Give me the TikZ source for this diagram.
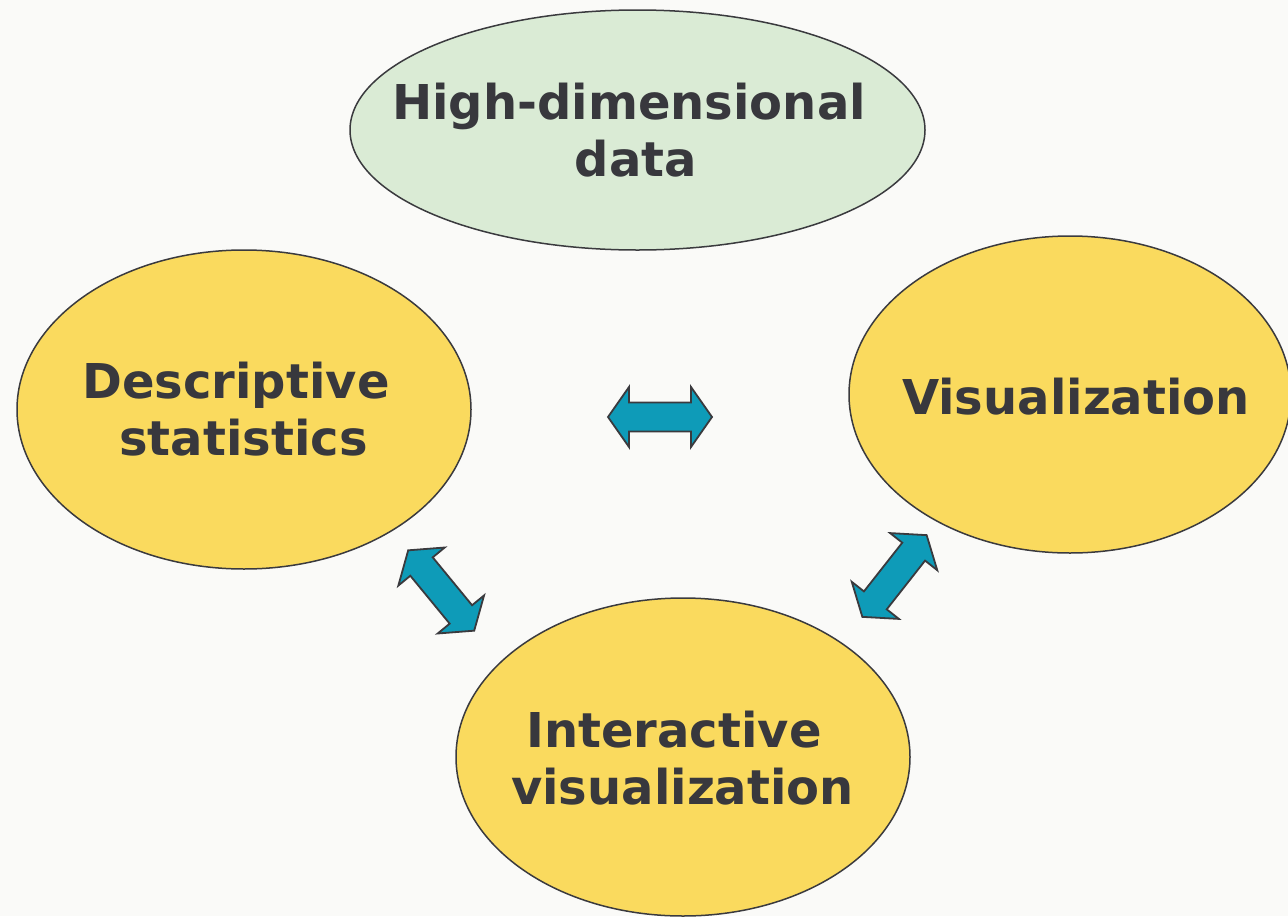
\documentclass[tikz,border=0pt]{standalone}
\usepackage{fontspec}
\setmainfont{DejaVu Sans}
\usetikzlibrary{shapes.geometric}
\definecolor{bg}{HTML}{FAFAF8}
\definecolor{greenfill}{HTML}{DAEBD5}
\definecolor{yellowfill}{HTML}{FADA5E}
\definecolor{arrowteal}{HTML}{0E9BB8}
\definecolor{edgecol}{HTML}{3A3A3E}
\definecolor{ink}{HTML}{38383D}
\newcommand{\dblarrow}[3]{\draw[blockarrow, shift={(#1,#2)}, rotate=#3]
  (-52,0) -- (-31,-30) -- (-31,-14.5) -- (31,-14.5) -- (31,-30) -- (52,0)
  -- (31,30) -- (31,14.5) -- (-31,14.5) -- (-31,30) -- cycle;}
\begin{document}
\begin{tikzpicture}[x=1pt,y=-1pt,
  bubble/.style={ellipse, draw=edgecol, line width=1.5pt, inner sep=0pt},
  lbl/.style={font=\fontsize{48}{57}\selectfont\bfseries, text=ink, inner sep=0pt, anchor=base},
  blockarrow/.style={fill=arrowteal, draw=edgecol, line width=1.8pt, line join=miter}]
\fill[bg] (0,0) rectangle (1288,916);
\useasboundingbox (0,0) rectangle (1288,916);
\clip (0,0) rectangle (1288,916);
\node[bubble, fill=greenfill, minimum width=575pt, minimum height=240pt] (hd) at (637.5,130) {};
\node[bubble, fill=yellowfill, minimum width=454pt, minimum height=319pt] (ds) at (244,409.5) {};
\node[bubble, fill=yellowfill, minimum width=442pt, minimum height=317pt] (vis) at (1070,394.5) {};
\node[bubble, fill=yellowfill, minimum width=454pt, minimum height=318pt] (iv) at (683,757) {};
\node[lbl] (hdA) at (629,119) {High-dimensional};
\node[lbl] (hdB) at (636,176) {data};
\node[lbl] (dsA) at (236,398) {Descriptive};
\node[lbl] (dsB) at (243.5,455) {statistics};
\node[lbl] (ivA) at (674,747) {Interactive};
\node[lbl] (ivB) at (682.5,804) {visualization};
\node[lbl] (visA) at (1076,414) {Visualization};
\dblarrow{660}{417}{0}
\dblarrow{441.2}{590.5}{-50.6}
\dblarrow{894.5}{576}{51.8}
\end{tikzpicture}
\end{document}
